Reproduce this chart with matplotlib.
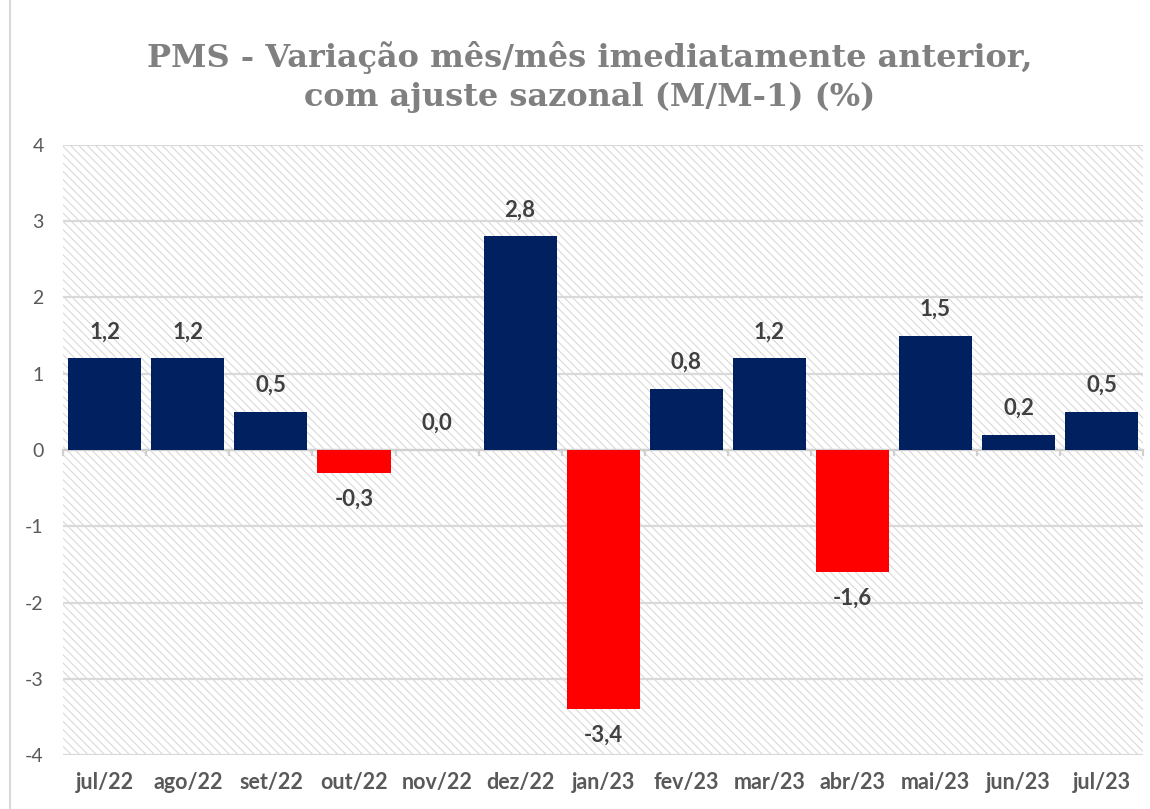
import numpy as np
import matplotlib.pyplot as plt
from matplotlib.patches import Rectangle

# data
months = ['jul/22', 'ago/22', 'set/22', 'out/22', 'nov/22', 'dez/22', 'jan/23',
          'fev/23', 'mar/23', 'abr/23', 'mai/23', 'jun/23', 'jul/23']
values = [1.2, 1.2, 0.5, -0.3, 0.0, 2.8, -3.4, 0.8, 1.2, -1.6, 1.5, 0.2, 0.5]

plt.rcParams['font.family'] = ['Lato', 'DejaVu Sans']
plt.rcParams['hatch.linewidth'] = 0.7
plt.rcParams['axes.unicode_minus'] = False

fig = plt.figure(figsize=(11.5, 8.09), dpi=100)
ax = fig.add_axes([0.055, 0.0667, 0.939, 0.7541])

# hatched plot background
bg = Rectangle((0, 0), 1, 1, transform=ax.transAxes, facecolor='white',
               hatch='\\\\\\\\', edgecolor='#d4d4d4', linewidth=0, zorder=0)
ax.add_patch(bg)

x = np.arange(len(months))
colors = ['#002060' if v >= 0 else '#ff0000' for v in values]
ax.bar(x, values, width=0.88, color=colors, zorder=3)

# labels
for xi, v in zip(x, values):
    lbl = f'{v:.1f}'.replace('.', ',')
    off = 19 if v >= 0 else -19
    ax.annotate(lbl, (xi, v), xytext=(0, off), textcoords='offset points',
                ha='center', va='center', fontsize=16, fontweight='bold',
                color='#404040', zorder=4)

ax.set_xlim(-0.5, len(months) - 0.5)
ax.set_ylim(-4, 4)
ax.set_yticks(range(-4, 5))
ax.yaxis.grid(True, color='#d9d9d9', linewidth=1.6)
ax.set_axisbelow(True)

# zero axis with category tick marks
ax.axhline(0, color='#d0d0d0', linewidth=1.6, zorder=2)
for b in np.arange(-0.5, len(months), 1.0):
    ax.plot([b, b], [0, -0.06], color='#d0d0d0', linewidth=1.6, zorder=2,
            clip_on=False)

for s in ax.spines.values():
    s.set_visible(False)
ax.tick_params(axis='both', length=0)
ax.tick_params(axis='y', labelsize=14, labelcolor='#595959', pad=14)
ax.set_xticks(x)
ax.set_xticklabels(months, fontsize=15.5, fontweight='bold', color='#595959')
ax.tick_params(axis='x', pad=12)

fig.text(0.513, 0.905, 'PMS - Variação mês/mês imediatamente anterior,\ncom ajuste sazonal (M/M-1) (%)',
         ha='center', va='center', fontsize=23, fontweight='bold', color='#808080',
         family=['DejaVu Serif'], linespacing=1.35)

# chart border
fig.patches.append(Rectangle((0.009, -0.01), 1.0, 1.02, transform=fig.transFigure,
                             fill=False, edgecolor='#d9d9d9', linewidth=1.5))

fig.savefig('out.png', dpi=100)
